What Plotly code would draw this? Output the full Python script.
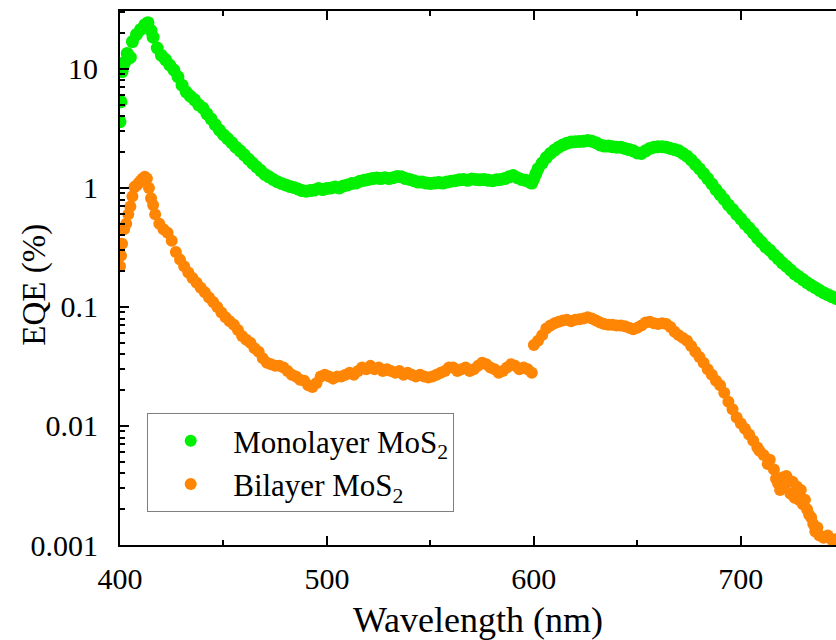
import plotly.graph_objects as go

# ---- data ----
mono_nm = [400, 400.5, 401, 401.5, 402.5, 403.5, 405, 406, 408, 410, 412, 413.5, 415, 416, 418,
           420, 422, 424, 426, 428, 430, 432, 434, 436, 438, 440, 442, 444, 446, 448, 450, 452,
           454, 456, 458, 460, 462, 464, 466, 468, 470, 472, 474, 476, 478, 480, 482, 484, 486,
           488, 490, 492, 494, 496, 498, 500, 502, 504, 506, 508, 510, 512, 514, 516, 518, 520,
           522, 524, 526, 528, 530, 532, 534, 536, 538, 540, 542, 544, 546, 548, 550, 552, 554,
           556, 558, 560, 562, 564, 566, 568, 570, 572, 574, 576, 578, 580, 582, 584, 586, 588,
           590, 592, 594, 596, 598, 599, 600, 601, 602, 604, 606, 608, 610, 612, 614, 616, 618,
           620, 622, 624, 626, 628, 630, 632, 634, 636, 638, 640, 642, 644, 646, 648, 650, 652,
           654, 656, 658, 660, 662, 664, 666, 668, 670, 672, 674, 676, 678, 680, 682, 684, 686,
           688, 690, 692, 694, 696, 698, 700, 702, 704, 706, 708, 710, 712, 714, 716, 718, 720,
           722, 724, 726, 728, 730, 732, 734, 736, 738, 740, 742, 744, 746, 748, 750]
mono_eqe = [3.6, 5.3, 9.5, 10.5, 11.5, 13.5, 12.5, 17, 19.5, 21.5, 23.5, 24.5, 21, 18.5, 15,
            13, 12, 10.8, 9.8, 8.6, 7.3, 6.4, 5.9, 5.5, 5.0, 4.7, 4.2, 3.8, 3.4, 3.07, 2.8, 2.6,
            2.4, 2.2, 2.05, 1.9, 1.75, 1.62, 1.5, 1.4, 1.3, 1.24, 1.18, 1.13, 1.09, 1.06, 1.03, 1.01, 0.98,
            0.95, 0.94, 0.95, 0.96, 0.99, 0.97, 0.99, 1.0, 1.02, 1.0, 1.04, 1.06, 1.09, 1.1, 1.14, 1.16, 1.18,
            1.2, 1.21, 1.2, 1.22, 1.2, 1.22, 1.25, 1.24, 1.2, 1.18, 1.15, 1.12, 1.12, 1.10, 1.09, 1.1, 1.11,
            1.1, 1.12, 1.14, 1.15, 1.17, 1.18, 1.16, 1.19, 1.18, 1.17, 1.18, 1.16, 1.15, 1.17, 1.18, 1.2, 1.24,
            1.27, 1.22, 1.18, 1.16, 1.12, 1.1, 1.2, 1.32, 1.45, 1.62, 1.8, 1.95, 2.08, 2.2, 2.3, 2.38, 2.43,
            2.45, 2.46, 2.47, 2.5, 2.47, 2.4, 2.3, 2.25, 2.25, 2.22, 2.2, 2.2, 2.15, 2.1, 2.05, 1.97, 1.95,
            2.05, 2.15, 2.2, 2.22, 2.22, 2.2, 2.15, 2.1, 2.05, 1.95, 1.85, 1.72, 1.58, 1.45, 1.32, 1.2, 1.08,
            0.97, 0.88, 0.8, 0.72, 0.66, 0.6, 0.55, 0.5, 0.46, 0.42, 0.38, 0.35, 0.32, 0.3, 0.275, 0.255, 0.235,
            0.22, 0.205, 0.19, 0.18, 0.17, 0.16, 0.152, 0.145, 0.138, 0.132, 0.127, 0.122, 0.118, 0.114, 0.11]

bi_nm = [400, 400.5, 401, 402, 403, 404, 405, 406, 407, 408, 409, 410, 411, 412, 413, 414, 415, 416,
         417, 419, 421, 423, 425, 427, 429, 431, 433, 435, 437, 439, 441, 443, 445, 447, 449, 451,
         453, 455, 457, 459, 461, 463, 465, 467, 469, 471, 473, 475, 477, 479, 481, 483, 485, 487,
         489, 491, 493, 495, 497, 499, 501, 503, 505, 507, 509, 511, 513, 515, 517, 519, 521, 523,
         525, 527, 529, 531, 533, 535, 537, 539, 541, 543, 545, 547, 549, 551, 553, 555, 557, 559,
         561, 563, 565, 567, 569, 571, 573, 575, 577, 579, 581, 583, 585, 587, 589, 591, 593, 595,
         597, 599, 600, 602, 604, 606, 608, 610, 612, 614, 616, 618, 620, 622, 624, 626, 628, 630,
         632, 634, 636, 638, 640, 642, 644, 646, 648, 650, 652, 654, 656, 658, 660, 662, 664, 666,
         668, 670, 672, 674, 676, 678, 680, 682, 684, 686, 688, 690, 692, 694, 696, 698, 700, 702,
         704, 706, 708, 709, 711, 713, 714, 716, 717, 718, 719, 720, 721, 722, 723, 724, 725, 726,
         727, 728, 729, 730, 731, 732, 733, 734, 735, 736, 737, 738, 740, 742, 744, 746]
bi_eqe = [0.22, 0.27, 0.34, 0.45, 0.5, 0.6, 0.7, 0.85, 1.02, 1.05, 1.1, 1.15, 1.2, 1.24, 1.2, 1.0, 0.82, 0.72,
          0.6, 0.5, 0.45, 0.42, 0.36, 0.29, 0.25, 0.22, 0.195, 0.175, 0.16, 0.145, 0.133, 0.12, 0.11, 0.1, 0.09, 0.082,
          0.076, 0.071, 0.064, 0.057, 0.053, 0.05, 0.045, 0.042, 0.037, 0.034, 0.033, 0.032, 0.032, 0.031, 0.029, 0.027, 0.026, 0.0245,
          0.024, 0.022, 0.0213, 0.023, 0.026, 0.027, 0.026, 0.025, 0.026, 0.026, 0.027, 0.028, 0.027, 0.029, 0.031, 0.03, 0.032, 0.03,
          0.031, 0.029, 0.03, 0.029, 0.028, 0.029, 0.027, 0.028, 0.027, 0.026, 0.027, 0.026, 0.0255, 0.026, 0.027, 0.028, 0.029, 0.031,
          0.031, 0.029, 0.03, 0.031, 0.029, 0.03, 0.032, 0.034, 0.033, 0.031, 0.03, 0.028, 0.029, 0.031, 0.033, 0.032, 0.03, 0.031,
          0.03, 0.028, 0.048, 0.052, 0.058, 0.066, 0.07, 0.073, 0.075, 0.077, 0.078, 0.076, 0.078, 0.079, 0.08, 0.082, 0.08, 0.077,
          0.074, 0.072, 0.071, 0.071, 0.07, 0.07, 0.069, 0.067, 0.065, 0.067, 0.07, 0.074, 0.075, 0.073, 0.072, 0.073, 0.072, 0.068,
          0.062, 0.058, 0.055, 0.052, 0.047, 0.042, 0.038, 0.034, 0.03, 0.027, 0.024, 0.022, 0.019, 0.016, 0.0138, 0.0118, 0.0105, 0.0095,
          0.0085, 0.0075, 0.0066, 0.0062, 0.0057, 0.0048, 0.0052, 0.0043, 0.0036, 0.0033, 0.0029, 0.0037, 0.0031, 0.0038, 0.0035, 0.0027, 0.0034, 0.0025,
          0.0031, 0.0024, 0.0029, 0.0022, 0.0024, 0.002, 0.0018, 0.0017, 0.0015, 0.0013, 0.0014, 0.0012, 0.00115, 0.0012, 0.0011, 0.00112]

y_tickvals = [0.001, 0.01, 0.1, 1, 10]
y_ticktext = ["0.001", "0.01", "0.1", "1", "10"]
x_tickvals = [400, 500, 600, 700]

FONT = "Liberation Serif"

fig = go.Figure()
fig.add_trace(go.Scatter(x=mono_nm, y=mono_eqe, mode="markers", name="Monolayer MoS<sub>2</sub>",
                         marker=dict(color="#00f000", size=13, line=dict(width=0))))
fig.add_trace(go.Scatter(x=bi_nm, y=bi_eqe, mode="markers", name="Bilayer MoS<sub>2</sub>",
                         marker=dict(color="#ff8505", size=12, line=dict(width=0))))

minor_y = [m * 10 ** e for e in range(-3, 2) for m in range(2, 10)]

fig.update_layout(
    width=836, height=640,
    margin=dict(l=120, r=0, t=11, b=95, autoexpand=False),
    paper_bgcolor="white", plot_bgcolor="white",
    font=dict(family=FONT, color="black", size=30),
    showlegend=True,
    legend=dict(x=0.038, y=0.247, xanchor="left", yanchor="top",
                bordercolor="#7f7f7f", borderwidth=1, bgcolor="white",
                font=dict(size=31, family=FONT), itemsizing="constant",
                tracegroupgap=0, itemwidth=75),
    xaxis=dict(range=[400, 746], tickvals=x_tickvals, ticks="inside", ticklen=9, tickwidth=1.5,
               tickcolor="black", showline=True, linecolor="black", linewidth=2, mirror="ticks",
               showgrid=False, zeroline=False, tickfont=dict(size=30, family=FONT),
               ticklabelstandoff=6, automargin=False,
               minor=dict(ticks="inside", ticklen=5, tickwidth=1.5, tickcolor="black", dtick=50, tick0=400),
               title=dict(text="Wavelength (nm)", font=dict(size=36, family=FONT), standoff=14)),
    yaxis=dict(type="log", range=[-3, 1.487], tickvals=y_tickvals, ticktext=y_ticktext,
               ticks="inside", ticklen=9, tickwidth=1.5, tickcolor="black",
               showline=True, linecolor="black", linewidth=2, showgrid=False, zeroline=False,
               tickfont=dict(size=30, family=FONT), ticklabelstandoff=14, automargin=False,
               minor=dict(ticks="inside", ticklen=5, tickwidth=1.5, tickcolor="black", tickvals=minor_y)),
    annotations=[dict(text="EQE (%)", xref="paper", yref="paper", x=-0.119, y=0.487,
                      textangle=-90, showarrow=False, xanchor="center", yanchor="middle",
                      font=dict(size=33, family=FONT, color="black"))],
)

fig.write_html("out.html")
